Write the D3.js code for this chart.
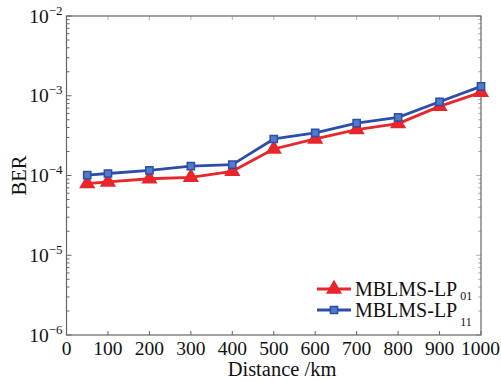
<!DOCTYPE html>
<html>
<head>
<meta charset="utf-8">
<script src="https://cdn.jsdelivr.net/npm/d3@7"></script>
<style>
  body { margin: 0; background: #fff; }
  svg { display: block; }
  text { font-family: "Liberation Serif", "DejaVu Serif", serif; fill: #111; }
</style>
</head>
<body>
<svg></svg>
<script>
// chart data
var distances = [50, 100, 200, 300, 400, 500, 600, 700, 800, 900, 1000];
var berLP01 = [7.9e-5, 8.3e-5, 9.1e-5, 9.5e-5, 1.13e-4, 2.15e-4, 2.87e-4, 3.76e-4, 4.47e-4, 7.36e-4, 1.1e-3];
var berLP11 = [1.01e-4, 1.06e-4, 1.16e-4, 1.31e-4, 1.37e-4, 2.87e-4, 3.43e-4, 4.55e-4, 5.36e-4, 8.4e-4, 1.31e-3];
var xTicks = [0, 100, 200, 300, 400, 500, 600, 700, 800, 900, 1000];
var yExponents = [-6, -5, -4, -3, -2];
var seriesNames = ["01", "11"];

var width = 501, height = 381;
var margin = {left: 66.5, right: 20, top: 16, bottom: 46};
var axisColor = "#666";

var svg = d3.select("svg").attr("width", width).attr("height", height);

var x = d3.scaleLinear().domain([0, 1000]).range([margin.left, width - margin.right]);
var y = d3.scaleLog().domain([1e-6, 1e-2]).range([height - margin.bottom, margin.top]);

var x0 = x.range()[0], x1 = x.range()[1];
var y0 = y.range()[0], y1 = y.range()[1];

// frame
svg.append("rect")
    .attr("x", x0).attr("y", y1)
    .attr("width", x1 - x0).attr("height", y0 - y1)
    .attr("fill", "none")
    .attr("stroke", axisColor)
    .attr("stroke-width", 1.2);

// y ticks (major + minor), inward on left, mirrored on right
var minorVals = [];
yExponents.forEach(function(e) {
    if (e === -2) return;
    for (var k = 2; k <= 9; k++) minorVals.push(k * Math.pow(10, e));
});
var majorVals = yExponents.map(function(e) { return Math.pow(10, e); });

var tickG = svg.append("g").attr("stroke", axisColor).attr("stroke-width", 1);
tickG.selectAll(".ymin").data(minorVals).enter().append("line")
    .attr("x1", x0).attr("x2", x0 + 3)
    .attr("y1", d => y(d)).attr("y2", d => y(d));
tickG.selectAll(".ymaj").data(majorVals).enter().append("line")
    .attr("x1", x0).attr("x2", x0 + 5)
    .attr("y1", d => y(d)).attr("y2", d => y(d));
tickG.selectAll(".ymin2").data(minorVals).enter().append("line")
    .attr("x1", x1).attr("x2", x1 - 3)
    .attr("y1", d => y(d)).attr("y2", d => y(d)).attr("stroke-opacity", 0.5);
tickG.selectAll(".ymaj2").data(majorVals).enter().append("line")
    .attr("x1", x1).attr("x2", x1 - 5)
    .attr("y1", d => y(d)).attr("y2", d => y(d)).attr("stroke-opacity", 0.5);

// x ticks
tickG.selectAll(".xt").data(xTicks).enter().append("line")
    .attr("x1", d => x(d)).attr("x2", d => x(d))
    .attr("y1", y0).attr("y2", y0 - 4);
tickG.selectAll(".xt2").data(xTicks).enter().append("line")
    .attr("x1", d => x(d)).attr("x2", d => x(d))
    .attr("y1", y1).attr("y2", y1 + 4).attr("stroke-opacity", 0.5);

// x tick labels
svg.selectAll(".xl").data(xTicks).enter().append("text")
    .attr("x", d => x(d))
    .attr("y", y0 + 20)
    .attr("text-anchor", d => d === 1000 ? "end" : "middle")
    .attr("dx", d => d === 1000 ? 19 : 0)
    .style("font-size", "19.5px")
    .text(d => d);

// y tick labels 10^e
var yl = svg.selectAll(".yl").data(yExponents).enter().append("text")
    .attr("x", x0 - 4)
    .attr("y", d => y(Math.pow(10, d)) + 6.5)
    .attr("text-anchor", "end")
    .style("font-size", "19.5px");
yl.append("tspan").text("10");
yl.append("tspan")
    .attr("dy", -8)
    .style("font-size", "13px")
    .text(d => "\u2212" + Math.abs(d));

// axis titles
svg.append("text")
    .attr("x", 282).attr("y", 376)
    .attr("text-anchor", "middle")
    .style("font-size", "20.5px")
    .text("Distance /km");

svg.append("text")
    .attr("transform", "translate(26," + ((y0 + y1) / 2) + ") rotate(-90)")
    .attr("text-anchor", "middle")
    .style("font-size", "20.5px")
    .text("BER");

// series
var series = [
    {name: seriesNames[0], values: berLP01, color: "#e8262b", fill: "#e8262b", marker: d3.symbolTriangle, size: 80},
    {name: seriesNames[1], values: berLP11, color: "#2b4fa8", fill: "#5479c9", marker: d3.symbolSquare, size: 52}
];

var line = d3.line()
    .x(d => x(d[0]))
    .y(d => y(d[1]));

series.forEach(function(s) {
    var pts = distances.map((d, i) => [d, s.values[i]]);
    svg.append("path")
        .datum(pts)
        .attr("d", line)
        .attr("fill", "none")
        .attr("stroke", s.color)
        .attr("stroke-width", 2.8)
        .attr("stroke-linejoin", "round");
    svg.selectAll(null).data(pts).enter().append("path")
        .attr("transform", d => "translate(" + x(d[0]) + "," + y(d[1]) + ")")
        .attr("d", d3.symbol().type(s.marker).size(s.size))
        .attr("fill", s.fill)
        .attr("stroke", s.color)
        .attr("stroke-width", 1.5);
});

// legend
var legend = svg.append("g");
series.forEach(function(s, i) {
    var ly = 289 + i * 21;
    legend.append("line")
        .attr("x1", 317).attr("x2", 351)
        .attr("y1", ly).attr("y2", ly)
        .attr("stroke", s.color).attr("stroke-width", 2.8);
    legend.append("path")
        .attr("transform", "translate(334," + ly + ")")
        .attr("d", d3.symbol().type(s.marker).size(s.size))
        .attr("fill", s.fill).attr("stroke", s.color).attr("stroke-width", 1.5);
    var t = legend.append("text")
        .attr("x", 355).attr("y", ly + 7)
        .style("font-size", "20px");
    t.append("tspan").text("MBLMS-LP");
    t.append("tspan")
        .attr("dy", i === 0 ? 4 : 9)
        .attr("dx", 3)
        .style("font-size", "12px")
        .text(s.name);
});
</script>
</body>
</html>
